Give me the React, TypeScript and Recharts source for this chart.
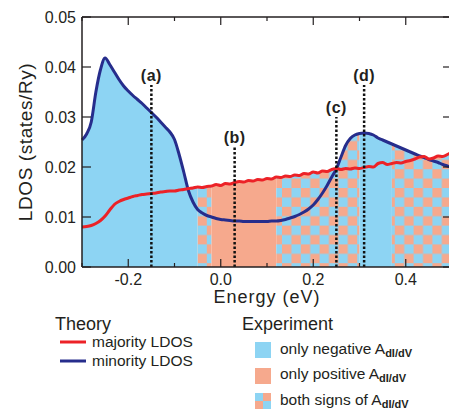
import React from "react";
import {
  ComposedChart,
  Area,
  Line,
  XAxis,
  YAxis,
  ReferenceLine,
} from "recharts";

// energy grid (eV)
const energy = [
  -0.3, -0.29, -0.28, -0.27, -0.26, -0.25, -0.24, -0.23, -0.22, -0.21,
  -0.2, -0.19, -0.18, -0.17, -0.16, -0.15, -0.14, -0.13, -0.12, -0.11,
  -0.1, -0.09, -0.08, -0.07, -0.06, -0.05, -0.04, -0.03, -0.02, -0.01,
  0, 0.01, 0.02, 0.03, 0.04, 0.05, 0.06, 0.07, 0.08, 0.09,
  0.1, 0.11, 0.12, 0.13, 0.14, 0.15, 0.16, 0.17, 0.18, 0.19,
  0.2, 0.21, 0.22, 0.23, 0.24, 0.25, 0.26, 0.27, 0.28, 0.29,
  0.3, 0.31, 0.32, 0.33, 0.34, 0.35, 0.36, 0.37, 0.38, 0.39,
  0.4, 0.41, 0.42, 0.43, 0.44, 0.45, 0.46, 0.47, 0.48, 0.49,
  0.5,
];

const majorityLdos = [
  0.008, 0.0081, 0.0083, 0.0087, 0.0093, 0.0102, 0.0114, 0.0125, 0.0131, 0.0135,
  0.0138, 0.0141, 0.0143, 0.0145, 0.0146, 0.0147, 0.0148, 0.015, 0.0151, 0.0152,
  0.0152, 0.0154, 0.0155, 0.0157, 0.0158, 0.016, 0.0159, 0.0161, 0.0162, 0.0165,
  0.0163, 0.0167, 0.0166, 0.0169, 0.0171, 0.017, 0.0173, 0.0172, 0.0175, 0.0174,
  0.0177, 0.0176, 0.018, 0.0179, 0.0182, 0.0181, 0.0184, 0.0183, 0.0187, 0.0186,
  0.019, 0.0188, 0.0192, 0.0191, 0.0195, 0.0197, 0.0195, 0.0197, 0.0196, 0.0198,
  0.0197, 0.0199, 0.0201, 0.02, 0.0207, 0.0209, 0.0205, 0.0207, 0.0209, 0.0208,
  0.0211, 0.0213, 0.0216, 0.022, 0.0221, 0.0216, 0.0218, 0.0222, 0.0221, 0.0225,
  0.023,
];

const minorityLdos = [
  0.0254, 0.0266, 0.029, 0.035, 0.0395, 0.0418, 0.0405, 0.039, 0.0375, 0.0362,
  0.0352, 0.0343, 0.0335, 0.0327, 0.0318, 0.0309, 0.03, 0.029, 0.028, 0.027,
  0.0255, 0.0225, 0.019, 0.0153, 0.013, 0.0115, 0.0108, 0.0103, 0.01, 0.0097,
  0.0095, 0.0094, 0.0093, 0.0092, 0.0092, 0.0091, 0.0091, 0.0091, 0.0091, 0.0091,
  0.0091, 0.0092, 0.0092, 0.0093, 0.0095, 0.0098, 0.0101, 0.0105, 0.011, 0.0116,
  0.0124, 0.0135, 0.0148, 0.0163, 0.018, 0.0196, 0.022, 0.0243, 0.0257, 0.0264,
  0.0267, 0.0268, 0.0267, 0.0264, 0.0258, 0.0254, 0.025, 0.0246, 0.0242, 0.0238,
  0.0234, 0.023, 0.0226, 0.0222, 0.0219, 0.0215, 0.0212, 0.0209, 0.0205, 0.0202,
  0.0199,
];

// experiment: sign of A_dI/dV between these energies
const regionEdges = [-0.3, -0.05, -0.02, 0.12, 0.3, 0.37, 0.5];
const regionSigns = ["neg", "both", "pos", "both", "neg", "both"];

const markerNames = ["(a)", "(b)", "(c)", "(d)"];
const markerEnergy = [-0.15, 0.03, 0.25, 0.31];
const markerTop = [0.0364, 0.024, 0.03, 0.0364];

const xTicks = [-0.3, -0.2, -0.1, 0, 0.1, 0.2, 0.3, 0.4, 0.5];
const yTicks = [0, 0.01, 0.02, 0.03, 0.04, 0.05];

const BLUE = "#8dd4f3";
const ORANGE = "#f6a98d";
const RED = "#ec2227";
const NAVY = "#262d8c";
const INK = "#231f20";
const FONT = '"Liberation Sans", Arial, sans-serif';

const PLOT_W = 370;
const PLOT_H = 250;

const data = energy.map((e, i) => {
  const row: any = {
    energy: e,
    majority: majorityLdos[i],
    minority: minorityLdos[i],
  };
  const top = Math.max(majorityLdos[i], minorityLdos[i]);
  regionSigns.forEach((_, k) => {
    const inside = e >= regionEdges[k] - 1e-9 && e <= regionEdges[k + 1] + 1e-9;
    row["r" + k] = inside ? top : null;
  });
  return row;
});

const fillFor = (s: string) =>
  s === "neg" ? BLUE : s === "pos" ? ORANGE : "url(#bothSigns)";

const EnergyTick = (props: any) => {
  const { x, y, payload } = props;
  const v = payload.value;
  const major = Math.round(v * 10) % 2 === 0;
  const len = major ? 8 : 4;
  return (
    <g>
      <line x1={x} x2={x} y1={y} y2={y - len} stroke={INK} strokeWidth={1.2} />
      <line x1={x} x2={x} y1={y - PLOT_H} y2={y - PLOT_H + len} stroke={INK} strokeWidth={1.2} />
      {major && (
        <text x={x} y={y + 18} textAnchor="middle" fontSize={16} fill={INK} fontFamily={FONT}>
          {v.toFixed(1)}
        </text>
      )}
    </g>
  );
};

const LdosTick = (props: any) => {
  const { x, y, payload } = props;
  return (
    <g>
      <line x1={x} x2={x + 9} y1={y} y2={y} stroke={INK} strokeWidth={1.2} />
      <line x1={x + PLOT_W - 9} x2={x + PLOT_W} y1={y} y2={y} stroke={INK} strokeWidth={1.2} />
      <text x={x - 6} y={y + 5.5} textAnchor="end" fontSize={16} fill={INK} fontFamily={FONT}>
        {payload.value.toFixed(2)}
      </text>
    </g>
  );
};

const Legends = () => (
  <svg
    width={449}
    height={410}
    style={{ position: "absolute", left: 0, top: 0, pointerEvents: "none" }}
    fontFamily={FONT}
    fill={INK}
  >
    <text x={55} y={330} fontSize={18}>Theory</text>
    <line x1={60} x2={86} y1={342} y2={342} stroke={RED} strokeWidth={3} />
    <text x={92} y={347} fontSize={15.5}>majority LDOS</text>
    <line x1={60} x2={86} y1={361} y2={361} stroke={NAVY} strokeWidth={3} />
    <text x={92} y={366} fontSize={15.5}>minority LDOS</text>

    <text x={242} y={330} fontSize={18}>Experiment</text>
    <rect x={255} y={342} width={16} height={16} fill={BLUE} />
    <text x={280} y={353.5} fontSize={15.5}>
      only negative A
      <tspan fontSize={11} fontWeight="bold" dy={3}>dI/dV</tspan>
    </text>
    <rect x={255} y={368} width={16} height={16} fill={ORANGE} />
    <text x={280} y={378.5} fontSize={15.5}>
      only positive A
      <tspan fontSize={11} fontWeight="bold" dy={3}>dI/dV</tspan>
    </text>
    <rect x={255} y={393} width={16} height={16} fill={BLUE} />
    <rect x={263} y={393} width={8} height={8} fill={ORANGE} />
    <rect x={255} y={401} width={8} height={8} fill={ORANGE} />
    <text x={280} y={405} fontSize={15.5}>
      both signs of A
      <tspan fontSize={11} fontWeight="bold" dy={3}>dI/dV</tspan>
    </text>
  </svg>
);

export default function App() {
  return (
    <div
      style={{
        position: "absolute",
        left: 0,
        top: 0,
        width: 449,
        height: 410,
        overflow: "hidden",
        background: "#fff",
      }}
    >
      <ComposedChart
        width={460}
        height={410}
        data={data}
        margin={{ top: 17, right: 8, left: 0, bottom: 103 }}
      >
        <defs>
          <pattern id="bothSigns" width={18.8} height={18.8} patternUnits="userSpaceOnUse">
            <rect x={0} y={0} width={18.8} height={18.8} fill={BLUE} />
            <rect x={0} y={0} width={9.4} height={9.4} fill={ORANGE} />
            <rect x={9.4} y={9.4} width={9.4} height={9.4} fill={ORANGE} />
          </pattern>
        </defs>
        <XAxis
          dataKey="energy"
          type="number"
          domain={[-0.3, 0.5]}
          ticks={xTicks}
          interval={0}
          height={40}
          tickSize={0}
          tickMargin={0}
          tickLine={false}
          tick={EnergyTick}
          axisLine={{ stroke: INK, strokeWidth: 1.5 }}
          label={{
            value: "Energy (eV)",
            position: "insideBottom",
            offset: 4,
            fontSize: 18,
            fill: INK,
            fontFamily: FONT,
            style: { letterSpacing: 1 },
          }}
        />
        <YAxis
          type="number"
          domain={[0, 0.05]}
          ticks={yTicks}
          interval={0}
          width={82}
          tickSize={0}
          tickMargin={0}
          tickLine={false}
          tick={LdosTick}
          axisLine={{ stroke: INK, strokeWidth: 1.5 }}
          label={{
            value: "LDOS (states/Ry)",
            angle: -90,
            position: "insideLeft",
            offset: 25,
            fontSize: 19,
            fill: INK,
            fontFamily: FONT,
            style: { textAnchor: "middle", letterSpacing: 0.6 },
          }}
        />
        {regionSigns.map((s, k) => (
          <Area
            key={"r" + k}
            dataKey={"r" + k}
            type="monotone"
            stroke="none"
            fill={fillFor(s)}
            fillOpacity={1}
            activeDot={false}
            isAnimationActive={false}
          />
        ))}
        <Line
          dataKey="minority"
          type="monotone"
          stroke={NAVY}
          strokeWidth={3}
          dot={false}
          activeDot={false}
          isAnimationActive={false}
        />
        <Line
          dataKey="majority"
          type="monotone"
          stroke={RED}
          strokeWidth={3}
          dot={false}
          activeDot={false}
          isAnimationActive={false}
        />
        <ReferenceLine y={0.05} stroke={INK} strokeWidth={1.5} />
        <ReferenceLine x={0.5} stroke={INK} strokeWidth={1.5} />
        {markerNames.map((m, i) => (
          <ReferenceLine
            key={m}
            segment={[
              { x: markerEnergy[i], y: 0 },
              { x: markerEnergy[i], y: markerTop[i] },
            ]}
            stroke="#111"
            strokeWidth={2.5}
            strokeDasharray="2.5 2"
            label={{
              value: m,
              position: "top",
              offset: 4,
              fill: INK,
              style: {
                fontSize: 16,
                fontWeight: "bold",
                fontFamily: FONT,
                letterSpacing: 0.5,
              },
            }}
          />
        ))}
      </ComposedChart>
      <Legends />
    </div>
  );
}
